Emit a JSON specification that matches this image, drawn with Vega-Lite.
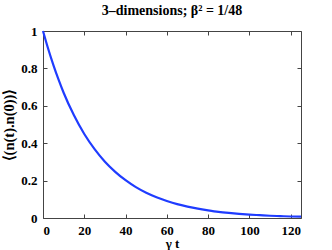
{
  "$schema": "https://vega.github.io/schema/vega-lite/v6.json",
  "autosize": "none",
  "width": 258,
  "height": 187,
  "padding": {"left": 43, "top": 31, "right": 31, "bottom": 32},
  "background": "white",
  "title": {"text": "3–dimensions; β² = 1/48", "font": "Liberation Serif", "fontWeight": "bold", "fontSize": 14, "color": "black", "offset": 7},
  "config": {
    "view": {"stroke": null},
    "axis": {"labelFont": "Liberation Serif", "labelFontWeight": "bold", "labelFontSize": 13, "labelColor": "black", "titleFont": "Liberation Serif", "titleFontWeight": "bold", "titleFontSize": 13, "titleColor": "black", "domainColor": "#444444", "tickColor": "#444444", "tickSize": -4, "grid": false}
  },
  "data": {"values": [
    {"t": 0, "c": 1.0}, {"t": 2.5, "c": 0.905}, {"t": 5, "c": 0.819}, {"t": 7.5, "c": 0.741}, {"t": 10, "c": 0.670},
    {"t": 15, "c": 0.549}, {"t": 20, "c": 0.449}, {"t": 25, "c": 0.368}, {"t": 30, "c": 0.301},
    {"t": 35, "c": 0.247}, {"t": 40, "c": 0.202}, {"t": 45, "c": 0.165}, {"t": 50, "c": 0.135},
    {"t": 55, "c": 0.111}, {"t": 60, "c": 0.091}, {"t": 65, "c": 0.074}, {"t": 70, "c": 0.061},
    {"t": 75, "c": 0.050}, {"t": 80, "c": 0.041}, {"t": 85, "c": 0.033}, {"t": 90, "c": 0.027},
    {"t": 95, "c": 0.022}, {"t": 100, "c": 0.018}, {"t": 105, "c": 0.015}, {"t": 110, "c": 0.012},
    {"t": 115, "c": 0.010}, {"t": 120, "c": 0.008}, {"t": 125, "c": 0.007}
  ]},
  "layer": [
    {
      "mark": {"type": "line", "color": "#1f3cff", "strokeWidth": 2.2, "interpolate": "monotone"},
      "encoding": {
        "x": {"field": "t", "type": "quantitative", "scale": {"domain": [0, 125], "nice": false}, "axis": {"title": "γ t", "format": "d", "values": [0, 20, 40, 60, 80, 100, 120], "labelPadding": 10, "titlePadding": 0}},
        "y": {"field": "c", "type": "quantitative", "scale": {"domain": [0, 1], "nice": false}, "axis": {"title": "⟨(n(t).n(0))⟩", "titleFontSize": 14.5, "format": "~g", "values": [0, 0.2, 0.4, 0.6, 0.8, 1], "labelPadding": 10, "titlePadding": 4}}
      }
    },
    {
      "mark": {"type": "line", "opacity": 0},
      "encoding": {
        "x": {"field": "t", "type": "quantitative", "axis": {"orient": "top", "labels": false, "title": null, "values": [0, 20, 40, 60, 80, 100, 120]}},
        "y": {"field": "c", "type": "quantitative", "axis": {"orient": "right", "labels": false, "title": null, "values": [0, 0.2, 0.4, 0.6, 0.8, 1]}}
      }
    }
  ],
  "resolve": {"axis": {"x": "independent", "y": "independent"}}
}
